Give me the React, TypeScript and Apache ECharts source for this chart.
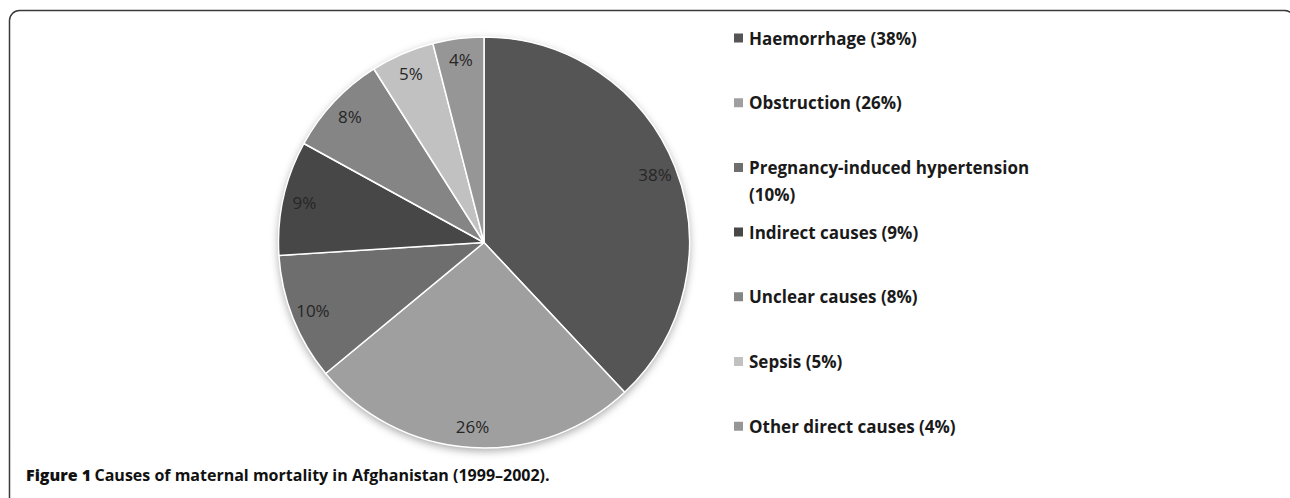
import React, { useEffect, useRef } from "react";
import * as echarts from "echarts";

const causes = [
  "Haemorrhage",
  "Obstruction",
  "Pregnancy-induced hypertension",
  "Indirect causes",
  "Unclear causes",
  "Sepsis",
  "Other direct causes",
];
const shares = [38, 26, 10, 9, 8, 5, 4];
const sliceColors = ["#555555", "#9f9f9f", "#6e6e6e", "#474747", "#858585", "#c1c1c1", "#969696"];
const captionBold = "Figure 1";
const captionText = "Causes of maternal mortality in Afghanistan (1999–2002).";

export default function App() {
  const ref = useRef<HTMLDivElement>(null);

  useEffect(() => {
    document.body.style.margin = "0";
    if (!ref.current) return;
    const chart = echarts.init(ref.current, undefined, { renderer: "svg" });

    const data = causes.map((name, i) => ({
      name,
      value: shares[i],
      itemStyle: { color: sliceColors[i] },
    }));
    const labelOf = (name: string) => {
      const i = causes.indexOf(name);
      return `${name} (${shares[i]}%)`;
    };

    const legends = causes.map((name, i) => {
      const wraps = labelOf(name).length > 32;
      const c = 38 + i * 64.7;
      return {
        orient: "vertical",
        left: 732,
        top: wraps ? c - 40.5 : c - 13.5,
        padding: 0,
        itemGap: 0,
        data: [name],
        icon: "rect",
        itemWidth: 11,
        itemHeight: 11,
        selectedMode: false,
        formatter: (n: string) => (wraps ? "\n" + labelOf(n).replace(/ \(/, "\n(") : labelOf(n)),
        textStyle: {
          fontFamily: "Open Sans",
          fontWeight: "bold",
          fontSize: 17,
          color: "#1a1a1a",
          lineHeight: 27,
        },
      };
    });

    chart.setOption({
      animation: false,
      backgroundColor: "#ffffff",
      legend: legends,
      graphic: [
        {
          type: "rect",
          shape: { x: 9.5, y: 10.5, width: 1285, height: 600, r: 10 },
          style: { fill: "none", stroke: "#3a3a3a", lineWidth: 1.5 },
          z: 0,
        },
        {
          type: "text",
          left: 26,
          top: 467,
          style: {
            text: `{a|${captionBold}} {b|${captionText}}`,
            rich: {
              a: { fontFamily: "Open Sans", fontWeight: 800, fontSize: 16, fill: "#111" },
              b: { fontFamily: "Open Sans", fontWeight: 700, fontSize: 16, fill: "#111" },
            },
          },
        },
      ],
      series: [
        {
          type: "pie",
          name: "shadow",
          center: [484, 242.5],
          radius: [0, 205.5],
          silent: true,
          label: { show: false },
          labelLine: { show: false },
          itemStyle: {
            color: "#ffffff",
            shadowBlur: 8,
            shadowOffsetY: 3,
            shadowColor: "rgba(0,0,0,0.35)",
          },
          data: [{ value: 1, name: "__bg" }],
          z: 1,
        },
        {
          type: "pie",
          name: "causes",
          center: [484, 242.5],
          radius: [0, 205.5],
          startAngle: 90,
          clockwise: true,
          silent: true,
          label: { show: false },
          labelLine: { show: false },
          itemStyle: { borderColor: "#ffffff", borderWidth: 1.5 },
          data,
          z: 2,
        },
        {
          type: "pie",
          name: "labels",
          center: [484, 242.5],
          radius: [158, 204],
          startAngle: 90,
          clockwise: true,
          silent: true,
          avoidLabelOverlap: false,
          itemStyle: { color: "rgba(0,0,0,0)", borderWidth: 0 },
          label: {
            show: true,
            position: "inside",
            formatter: (p: any) => `${p.value}%`,
            fontFamily: "Open Sans",
            fontSize: 17,
            color: "#262626",
          },
          labelLine: { show: false },
          data: causes.map((name, i) => ({ name, value: shares[i] })),
          z: 3,
        },
      ],
    });

    return () => chart.dispose();
  }, []);

  return <div ref={ref} style={{ width: 1290, height: 498 }} />;
}
